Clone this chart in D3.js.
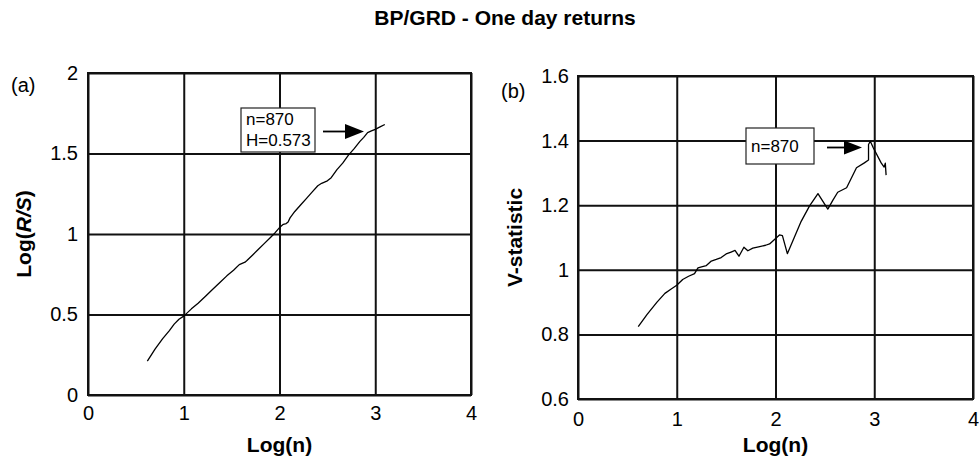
<!DOCTYPE html>
<html>
<head>
<meta charset="utf-8">
<script src="https://cdn.jsdelivr.net/npm/d3@7/dist/d3.min.js"></script>
<style>
  html, body { margin: 0; padding: 0; background: #fff; }
  svg { display: block; }
  text { font-family: "Liberation Sans", Arial, Helvetica, sans-serif; fill: #000; }
</style>
</head>
<body>
<svg id="chart" width="979" height="462"></svg>
<script>
// R/S analysis of BP/GRD one-day returns: log(n) vs log(R/S), and the V-statistic
const title = "BP/GRD - One day returns";

const xTicks = [0, 1, 2, 3, 4];
const rsTicks = [0, 0.5, 1, 1.5, 2];
const vTicks = [0.6, 0.8, 1, 1.2, 1.4, 1.6];

// panel (a): log(n) and log(R/S)
const rsLogN = [0.62, 0.70, 0.78, 0.85, 0.90, 0.95, 1.00, 1.08, 1.15, 1.23, 1.30, 1.38, 1.45, 1.52,
  1.58, 1.64, 1.66, 1.72, 1.78, 1.84, 1.90, 1.95, 2.00, 2.04, 2.07, 2.09, 2.11, 2.16, 2.22, 2.28,
  2.34, 2.40, 2.44, 2.50, 2.54, 2.60, 2.66, 2.72, 2.78, 2.84, 2.88, 2.92, 2.96, 3.00, 3.05, 3.10];
const rsValue = [0.21, 0.285, 0.35, 0.40, 0.44, 0.47, 0.49, 0.535, 0.57, 0.615, 0.655, 0.70, 0.74, 0.775,
  0.81, 0.825, 0.835, 0.87, 0.905, 0.94, 0.975, 1.005, 1.04, 1.06, 1.065, 1.075, 1.10, 1.14, 1.18, 1.22,
  1.26, 1.30, 1.315, 1.33, 1.35, 1.40, 1.44, 1.49, 1.53, 1.575, 1.60, 1.63, 1.64, 1.65, 1.665, 1.68];

// panel (b): log(n) and V-statistic
const vLogN = [0.61, 0.70, 0.80, 0.88, 0.94, 1.00, 1.06, 1.12, 1.18, 1.215, 1.26, 1.30, 1.35, 1.40,
  1.45, 1.50, 1.55, 1.59, 1.63, 1.68, 1.72, 1.77, 1.84, 1.90, 1.94, 1.99, 2.04, 2.07, 2.12, 2.19,
  2.26, 2.345, 2.43, 2.53, 2.58, 2.63, 2.72, 2.82, 2.90, 2.942, 2.942, 2.96, 2.99, 3.07, 3.10, 3.112, 3.12];
const vValue = [0.824, 0.862, 0.900, 0.927, 0.940, 0.952, 0.970, 0.980, 0.988, 1.006, 1.010, 1.013, 1.027, 1.032,
  1.038, 1.049, 1.055, 1.060, 1.042, 1.070, 1.059, 1.067, 1.072, 1.076, 1.080, 1.094, 1.108, 1.106, 1.050, 1.100,
  1.150, 1.198, 1.236, 1.188, 1.215, 1.240, 1.254, 1.316, 1.331, 1.340, 1.388, 1.398, 1.378, 1.331, 1.318, 1.330, 1.293];

const svg = d3.select("#chart");

svg.append("text")
  .attr("x", 505).attr("y", 25)
  .attr("text-anchor", "middle")
  .style("font-size", "21px").style("font-weight", "bold")
  .text(title);

function panel(opt) {
  const x = d3.scaleLinear().domain([0, 4]).range([opt.left, opt.right]);
  const y = d3.scaleLinear().domain(opt.yDomain).range([opt.bottom, opt.top]);
  const g = svg.append("g");

  // vertical grid + x tick labels
  const xa = g.append("g")
    .attr("transform", `translate(0,${opt.bottom})`)
    .call(d3.axisBottom(x).tickValues(xTicks).tickFormat(d3.format("d"))
      .tickSizeInner(-(opt.bottom - opt.top)).tickSizeOuter(0).tickPadding(opt.xPad));
  xa.select(".domain").remove();
  xa.selectAll("line").attr("stroke", "#111").attr("stroke-width", 2);
  xa.selectAll("text").style("font-size", "20px").attr("fill", "#000");

  // horizontal grid + y tick labels
  const ya = g.append("g")
    .attr("transform", `translate(${opt.left},0)`)
    .call(d3.axisLeft(y).tickValues(opt.yTicks).tickFormat(d => String(d))
      .tickSizeInner(-(opt.right - opt.left)).tickSizeOuter(0).tickPadding(opt.yPad));
  ya.select(".domain").remove();
  ya.selectAll("line").attr("stroke", "#111").attr("stroke-width", 2);
  ya.selectAll("text").style("font-size", "20px").attr("fill", "#000");

  // frame
  g.append("rect")
    .attr("x", opt.left).attr("y", opt.top)
    .attr("width", opt.right - opt.left).attr("height", opt.bottom - opt.top)
    .attr("fill", "none").attr("stroke", "#111").attr("stroke-width", 2);

  // data line
  const pts = opt.xs.map((v, i) => [v, opt.ys[i]]);
  g.append("path")
    .datum(pts)
    .attr("fill", "none").attr("stroke", "#000").attr("stroke-width", 1.3)
    .attr("stroke-linejoin", "round")
    .attr("d", d3.line().x(d => x(d[0])).y(d => y(d[1])));

  // axis titles
  g.append("text")
    .attr("x", (opt.left + opt.right) / 2).attr("y", 452)
    .attr("text-anchor", "middle")
    .style("font-size", "21px").style("font-weight", "bold")
    .text("Log(n)");

  const yt = g.append("text")
    .attr("transform", `translate(${opt.yTitleX},${(opt.top + opt.bottom) / 2}) rotate(-90)`)
    .attr("text-anchor", "middle")
    .style("font-size", "21px").style("font-weight", "bold");
  opt.yTitle(yt);

  // panel letter
  g.append("text")
    .attr("x", opt.letterX).attr("y", opt.letterY)
    .style("font-size", "20px")
    .text(opt.letter);

  // annotation box and arrow
  const a = opt.note;
  g.append("rect")
    .attr("x", a.x).attr("y", a.y).attr("width", a.w).attr("height", a.h)
    .attr("fill", "#fff").attr("stroke", "#222").attr("stroke-width", 1.2);
  a.lines.forEach((t, i) => {
    g.append("text")
      .attr("x", a.x + 5).attr("y", a.y + a.first + i * 21)
      .style("font-size", "17px")
      .text(t);
  });
  g.append("line")
    .attr("x1", a.ax1).attr("x2", a.ahead).attr("y1", a.ay).attr("y2", a.ay)
    .attr("stroke", "#000").attr("stroke-width", 1.8);
  g.append("path")
    .attr("d", `M${a.ahead},${a.ay - a.hh} L${a.ax2},${a.ay} L${a.ahead},${a.ay + a.hh} Z`)
    .attr("fill", "#000");
}

panel({
  left: 88, right: 471, top: 73, bottom: 395,
  yDomain: [0, 2], yTicks: rsTicks, xPad: 11, yPad: 10,
  xs: rsLogN, ys: rsValue,
  yTitleX: 31,
  yTitle: t => {
    t.append("tspan").text("Log(");
    t.append("tspan").style("font-style", "italic").text("R/S");
    t.append("tspan").text(")");
  },
  letter: "(a)", letterX: 11, letterY: 92,
  note: { x: 241, y: 108, w: 74, h: 44, first: 17, lines: ["n=870", "H=0.573"],
    ax1: 323, ahead: 345, ax2: 364, ay: 131.5, hh: 7.5 }
});

panel({
  left: 578, right: 973, top: 76, bottom: 399,
  yDomain: [0.6, 1.6], yTicks: vTicks, xPad: 13, yPad: 9,
  xs: vLogN, ys: vValue,
  yTitleX: 522,
  yTitle: t => t.text("V-statistic"),
  letter: "(b)", letterX: 501, letterY: 98,
  note: { x: 746, y: 128, w: 68, h: 36, first: 24, lines: ["n=870"],
    ax1: 827, ahead: 844, ax2: 862, ay: 147.5, hh: 7 }
});
</script>
</body>
</html>
